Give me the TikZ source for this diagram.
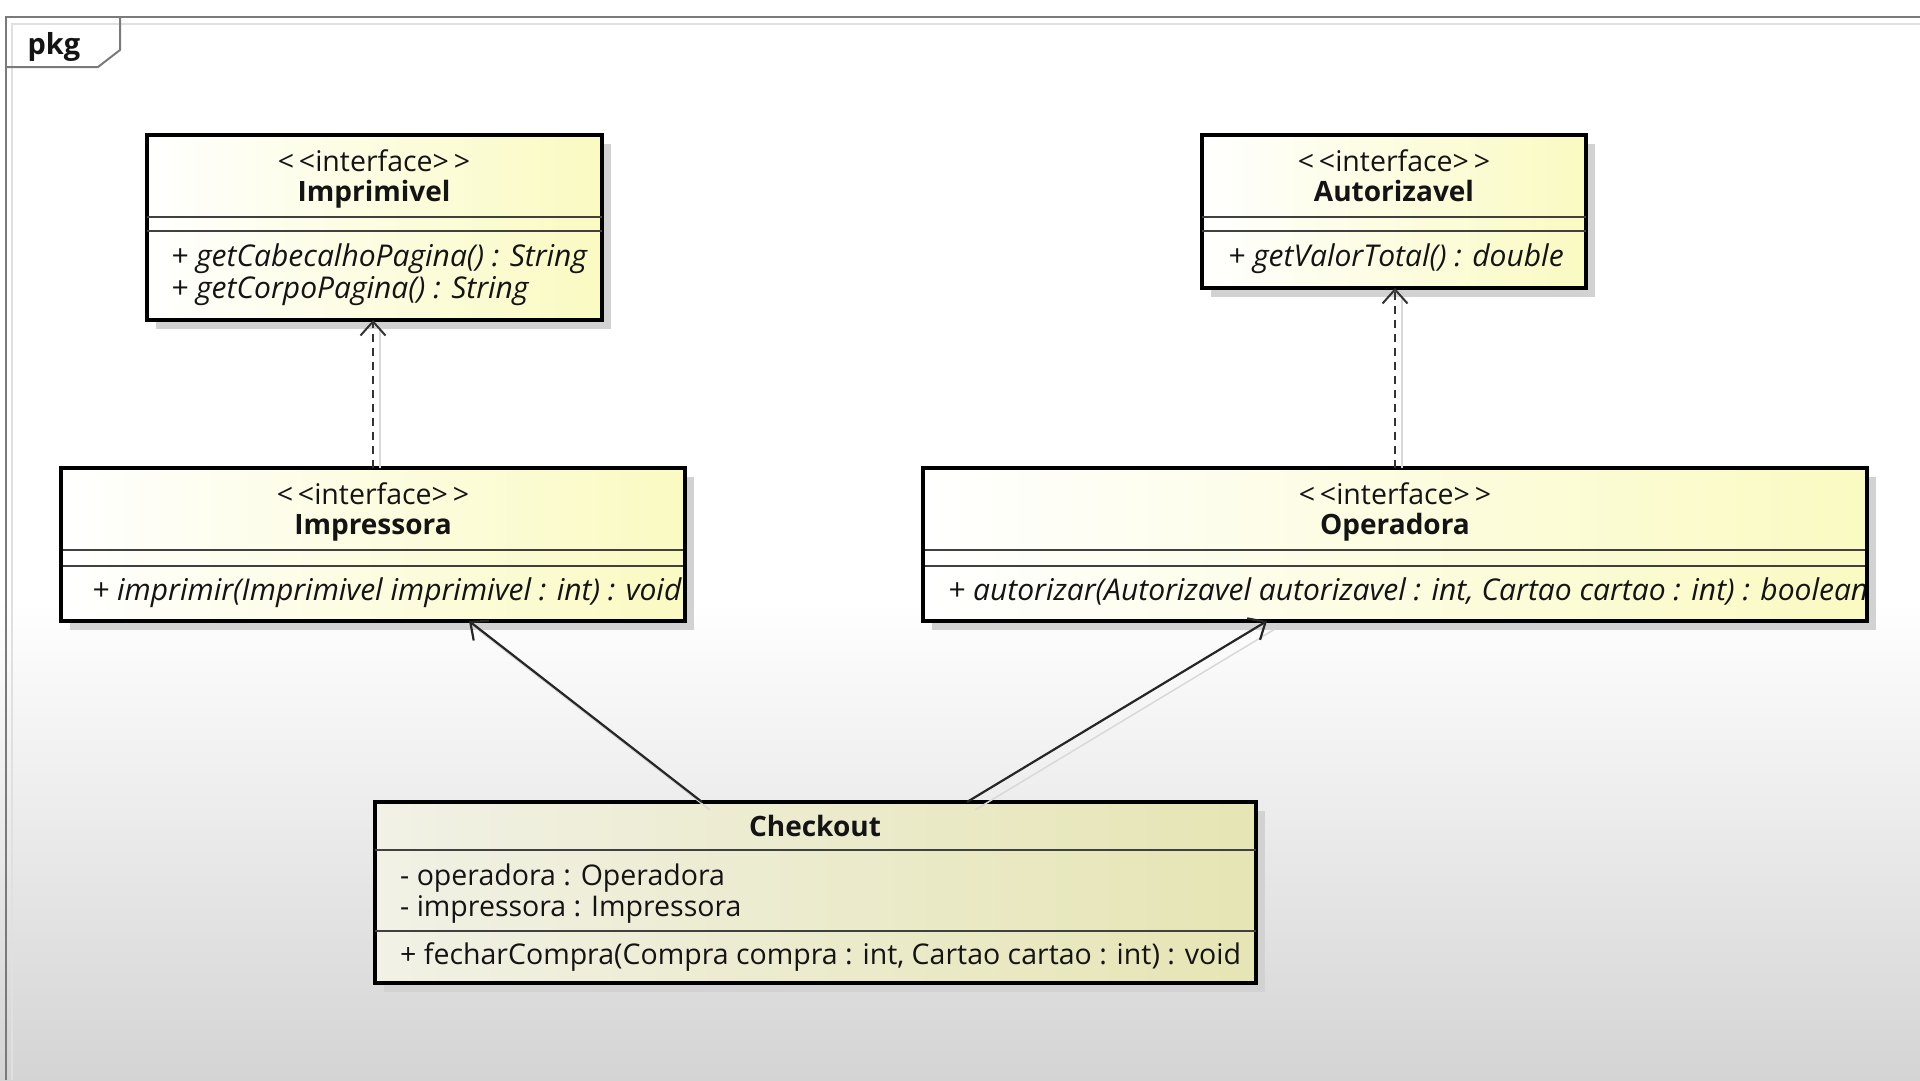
\documentclass[tikz,border=0pt]{standalone}
\usepackage{fontspec}
\setmainfont{Open Sans}
\usetikzlibrary{arrows.meta,calc}
\definecolor{boxyel}{HTML}{FAFAC2}
\definecolor{chkleft}{HTML}{F1F1E6}
\definecolor{chkright}{HTML}{E6E5B4}
\definecolor{bggray}{HTML}{D4D4D4}
\definecolor{shadowgray}{HTML}{D2D2D2}
\definecolor{framegray}{HTML}{7A7A7A}
\newcommand\umlclass[6]{%
  \fill[shadowgray] (#2+9,#3+9) rectangle ++(#4,#5);
  \node[umlbox,#6,minimum width=#4,minimum height=#5] (#1) at (#2,#3) {};}
\newcommand\umldiv[2]{%
  \draw[divider] ($(#1.north west)+(0,#2)$) -- ($(#1.north east)+(0,#2)$);}
\newcommand\stereotext{<\,<interface>\,>}
\begin{document}
\begin{tikzpicture}[x=1pt,y=-1pt,
  umlbox/.style={draw=black, line width=3.2pt, anchor=north west, inner sep=0pt, outer sep=0pt},
  yelfill/.style={left color=white, right color=boxyel},
  chkfill/.style={left color=chkleft, right color=chkright},
  divider/.style={draw=black!75, line width=1.8pt},
  txt/.style={inner sep=0pt, font=\fontsize{28.5}{34}\selectfont, text=black!92},
  stereo/.style={txt, anchor=base},
  cname/.style={txt, anchor=base, font=\fontsize{28}{34}\selectfont\bfseries},
  member/.style={txt, anchor=base west},
  op/.style={txt, anchor=base west, font=\fontsize{30}{36}\selectfont\itshape},
  realize/.style={draw=black!80, line width=2pt, dash pattern=on 8pt off 6pt, -{Straight Barb[length=14pt,width=25pt]}},
  assoc/.style={draw=black!85, line width=2.2pt, -{Straight Barb[length=14pt,width=25pt]}},
  ghost/.style={draw=black!15, line width=1.5pt},
  framestyle/.style={draw=framegray, line width=2pt}
]
\useasboundingbox (0,0) rectangle (1920,1080);
% background
\fill[white] (0,0) rectangle (1920,1080);
\shade[top color=white, bottom color=bggray] (0,600) rectangle (1920,1080);
% package frame
\draw[black!12, line width=1.5pt] (12,1080) -- (12,24) -- (1920,24);
\draw[framestyle] (6,1080) -- (6,17) -- (1920,17);
\draw[framestyle] (6,67) -- (98,67) -- (120,50) -- (120,17);
\node[txt, font=\fontsize{29}{34}\selectfont\bfseries, anchor=base] (pkg) at (54,54) {pkg};

% classes
\umlclass{imprimivel}{147}{135}{455}{185}{yelfill}
\umlclass{autorizavel}{1202}{135}{384}{153}{yelfill}
\umlclass{impressora}{61}{468}{624}{153}{yelfill}
\umlclass{operadora}{923}{468}{944}{153}{yelfill}
\umlclass{checkout}{375}{802}{881}{181}{chkfill}

% Imprimivel
\umldiv{imprimivel}{82}
\umldiv{imprimivel}{96}
\node[stereo] (imprimivel-st) at (374,171) {\stereotext};
\node[cname] (imprimivel-nm) at (374,201) {Imprimivel};
\node[op] (imprimivel-m1) at (171,266) {+ getCabecalhoPagina() : String};
\node[op] (imprimivel-m2) at (171,298) {+ getCorpoPagina() : String};

% Autorizavel
\umldiv{autorizavel}{82}
\umldiv{autorizavel}{96}
\node[stereo] (autorizavel-st) at (1394,171) {\stereotext};
\node[cname] (autorizavel-nm) at (1394,201) {Autorizavel};
\node[op] (autorizavel-m1) at (1228,266) {+ getValorTotal() : double};

% Impressora
\umldiv{impressora}{82}
\umldiv{impressora}{98}
\node[stereo] (impressora-st) at (373,504) {\stereotext};
\node[cname] (impressora-nm) at (373,534) {Impressora};
\begin{scope}
\clip (impressora.north west) rectangle (impressora.south east);
\node[op] (impressora-m1) at (92,600) {+ imprimir(Imprimivel imprimivel : int) : void};
\end{scope}

% Operadora
\umldiv{operadora}{82}
\umldiv{operadora}{98}
\node[stereo] (operadora-st) at (1395,504) {\stereotext};
\node[cname] (operadora-nm) at (1395,534) {Operadora};
\begin{scope}
\clip (operadora.north west) rectangle (operadora.south east);
\node[op] (operadora-m1) at (948,600) {+ autorizar(Autorizavel autorizavel : int, Cartao cartao : int) : boolean};
\end{scope}

% Checkout
\umldiv{checkout}{48}
\umldiv{checkout}{129}
\node[cname] (checkout-nm) at (815,836) {Checkout};
\node[member] (checkout-a1) at (400,885) {- operadora : Operadora};
\node[member] (checkout-a2) at (400,916) {- impressora : Impressora};
\node[member] (checkout-m1) at (400,964) {+ fecharCompra(Compra compra : int, Cartao cartao : int) : void};

% redraw borders over clipped text
\draw[line width=3.2pt] (impressora.north west) rectangle (impressora.south east);
\draw[line width=3.2pt] (operadora.north west) rectangle (operadora.south east);

% connector shadows
\draw[ghost] ($(impressora.north)+(7,0)$) -- ($(impressora.north |- imprimivel.south)+(7,8)$);
\draw[ghost] ($(operadora.north)+(7,0)$) -- ($(operadora.north |- autorizavel.south)+(7,8)$);
\draw[ghost] ($(checkout.north west)+(335,8)$) -- ($(impressora.south west)+(416,8)$);
\draw[ghost] ($(checkout.north west)+(600,8)$) -- ($(operadora.south west)+(352,8)$);

% connectors
\draw[realize] (impressora.north) -- (impressora.north |- imprimivel.south);
\draw[realize] (operadora.north) -- (operadora.north |- autorizavel.south);
\draw[assoc] ($(checkout.north west)+(327,0)$) -- ($(impressora.south west)+(408,0)$);
\draw[assoc] ($(checkout.north west)+(592,0)$) -- ($(operadora.south west)+(344,0)$);
\end{tikzpicture}
\end{document}
